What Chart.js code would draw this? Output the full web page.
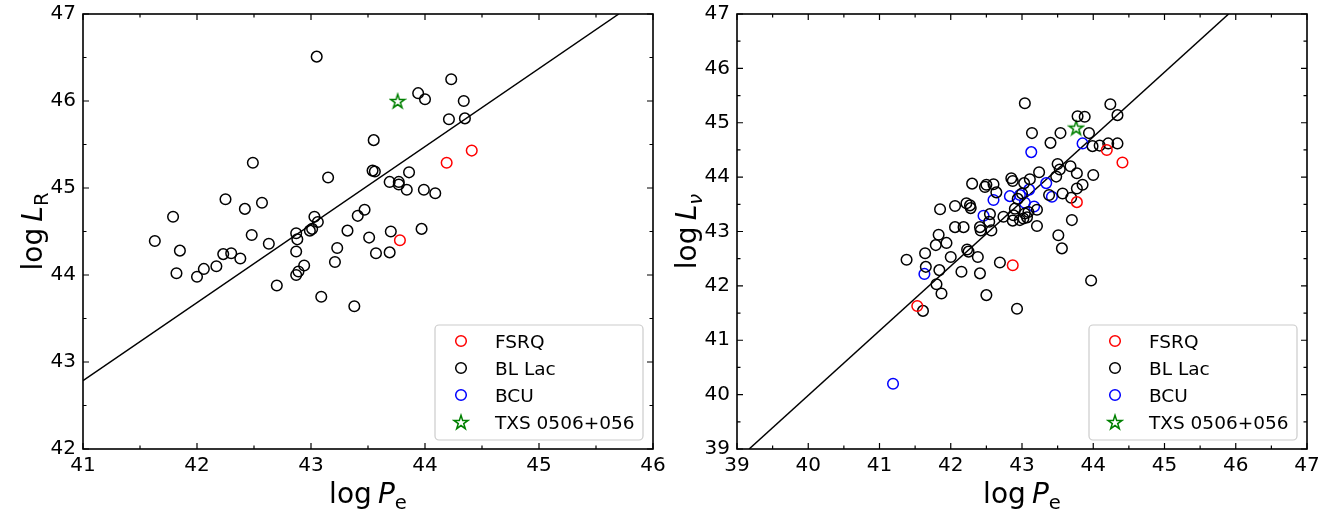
<!DOCTYPE html>
<html>
<head>
<meta charset="utf-8">
<script src="https://cdn.jsdelivr.net/npm/chart.js@4"></script>
<style>
html,body{margin:0;padding:0;background:#fff;}
#wrap{position:relative;width:1338px;height:514px;overflow:hidden;background:#fff;}
#c1{position:absolute;left:0;top:0;}
#c2{position:absolute;left:669px;top:0;}
</style>
</head>
<body>
<div id="wrap">
<canvas id="c1" width="669" height="514"></canvas>
<canvas id="c2" width="669" height="514"></canvas>
</div>
<script>
// ---------- Left panel: log P_e vs log L_R ----------
const leftXTicks = [41, 42, 43, 44, 45, 46];
const leftYTicks = [42, 43, 44, 45, 46, 47];

const leftFsrqPe = [44.41, 44.19, 43.78];
const leftFsrqLR = [45.43, 45.29, 44.40];

const leftBlLacPe = [43.05, 43.55, 42.49, 43.15, 43.54, 43.56, 42.25, 42.42, 42.57, 41.79,
  43.03, 43.06, 43.47, 43.41, 43.32, 42.99, 43.01, 42.87, 43.51, 42.48,
  41.63, 42.63, 41.85, 41.82, 42.00, 42.06, 42.17, 42.23, 42.30, 42.38,
  42.70, 42.88, 42.87, 42.87, 42.89, 42.94, 43.09, 43.21, 43.23, 43.38,
  43.57, 44.23, 43.94, 44.00, 44.34, 44.21, 44.35, 43.86, 43.69, 43.77,
  43.77, 43.84, 43.99, 44.09, 43.70, 43.97, 43.69];
const leftBlLacLR = [46.51, 45.55, 45.29, 45.12, 45.20, 45.19, 44.87, 44.76, 44.83, 44.67,
  44.67, 44.61, 44.75, 44.68, 44.51, 44.51, 44.53, 44.48, 44.43, 44.46,
  44.39, 44.36, 44.28, 44.02, 43.98, 44.07, 44.10, 44.24, 44.25, 44.19,
  43.88, 44.41, 44.27, 44.00, 44.04, 44.11, 43.75, 44.15, 44.31, 43.64,
  44.25, 46.25, 46.09, 46.02, 46.00, 45.79, 45.80, 45.18, 45.07, 45.07,
  45.04, 44.98, 44.98, 44.94, 44.50, 44.53, 44.26];

const leftBcuPe = [];
const leftBcuLR = [];

const leftTxsPe = [43.76];
const leftTxsLR = [46.00];

const leftFitPe = [41.0, 45.70];
const leftFitLR = [42.785, 47.0];

// ---------- Right panel: log P_e vs log L_nu ----------
const rightXTicks = [39, 40, 41, 42, 43, 44, 45, 46, 47];
const rightYTicks = [39, 40, 41, 42, 43, 44, 45, 46, 47];

const rightFsrqPe = [44.19, 44.41, 43.77, 42.87, 41.53];
const rightFsrqLnu = [44.50, 44.27, 43.54, 42.38, 41.63];

const rightBlLacPe = [43.04, 43.14, 43.40, 43.54, 44.24, 44.34, 43.78, 43.88, 43.94, 43.99,
  44.09, 44.21, 44.34, 43.50, 43.53, 43.68, 43.77, 44.00, 43.24, 43.11,
  43.03, 43.48, 43.85, 43.77, 43.57, 43.38, 43.69, 43.21, 43.07, 43.02,
  43.21, 43.70, 43.51, 43.56, 43.97, 42.93, 41.38, 41.64, 41.65, 41.83,
  41.79, 41.94, 41.84, 41.80, 41.87, 41.61, 42.00, 42.06, 42.18, 42.15,
  42.23, 42.25, 42.38, 42.41, 42.42, 42.41, 42.57, 42.50, 42.69, 41.85,
  42.06, 42.22, 42.27, 42.28, 42.30, 42.48, 42.50, 42.60, 42.64, 42.55,
  42.85, 42.87, 42.94, 43.00, 42.74, 42.88, 42.90, 42.87, 42.54, 43.09,
  43.04, 42.97];
const rightBlLacLnu = [45.36, 44.81, 44.63, 44.81, 45.34, 45.14, 45.12, 45.11, 44.81, 44.57,
  44.58, 44.62, 44.62, 44.24, 44.14, 44.20, 44.07, 44.04, 44.09, 43.96,
  43.89, 44.01, 43.86, 43.79, 43.70, 43.67, 43.62, 43.40, 43.26, 43.24,
  43.10, 43.21, 42.93, 42.69, 42.10, 41.58, 42.48, 42.60, 42.35, 42.94,
  42.75, 42.79, 42.29, 42.03, 41.86, 41.54, 42.53, 43.08, 43.08, 42.26,
  42.67, 42.63, 42.53, 43.08, 43.02, 42.23, 43.02, 41.83, 42.43, 43.41,
  43.47, 43.52, 43.48, 43.43, 43.88, 43.82, 43.86, 43.87, 43.72, 43.32,
  43.98, 43.93, 43.60, 43.70, 43.27, 43.30, 43.42, 43.20, 43.18, 43.36,
  43.33, 43.21];

const rightBcuPe = [43.13, 43.85, 43.34, 43.10, 43.42, 43.17, 43.04, 42.97, 42.83, 42.60, 42.46, 41.63, 41.19];
const rightBcuLnu = [44.46, 44.62, 43.89, 43.77, 43.64, 43.46, 43.53, 43.67, 43.65, 43.58, 43.29, 42.22, 40.20];

const rightTxsPe = [43.76];
const rightTxsLnu = [44.91];

const rightFitPe = [39.17, 45.90];
const rightFitLnu = [39.0, 47.0];

// ---------- helpers ----------
const FONT = "'DejaVu Sans', 'Liberation Sans', sans-serif";
const TICK_SIZE = 20;
const TITLE_SIZE = 28;
const LEGEND_SIZE = 18.5;
const RED = '#ff0000', BLACK = '#000000', BLUE = '#0000ff', GREEN = '#008000';

function pts(xs, ys) { return xs.map((x, i) => ({x: x, y: ys[i]})); }

function makeStar() {
  const c = document.createElement('canvas');
  c.width = 18; c.height = 18;
  const g = c.getContext('2d');
  g.strokeStyle = GREEN; g.lineWidth = 1.5; g.lineJoin = 'miter';
  g.beginPath();
  const R = 7.4, r = R * 0.382;
  for (let i = 0; i < 10; i++) {
    const a = -Math.PI / 2 + i * Math.PI / 5;
    const rad = (i % 2 === 0) ? R : r;
    const px = 9 + rad * Math.cos(a), py = 9.7 + rad * Math.sin(a);
    if (i === 0) g.moveTo(px, py); else g.lineTo(px, py);
  }
  g.closePath(); g.stroke();
  return c;
}
const STAR = makeStar();

function scatterSet(label, xs, ys, color, star) {
  return {
    type: 'scatter', label: label, data: pts(xs, ys),
    pointStyle: star ? STAR : 'circle',
    pointRadius: 5.3, pointHoverRadius: 5.3,
    borderColor: color, backgroundColor: 'rgba(0,0,0,0)',
    borderWidth: 1.5, order: 1
  };
}
function fitSet(xs, ys) {
  return {
    type: 'line', label: 'fit', data: pts(xs, ys),
    borderColor: '#000', borderWidth: 1.5, pointRadius: 0,
    fill: false, tension: 0, order: 2
  };
}

function drawTitle(ctx, parts, size) {
  let total = 0;
  const items = parts.map(p => {
    const s = p.sub ? size * 0.7 : size;
    const f = (p.italic ? 'italic ' : '') + s + 'px ' + FONT;
    ctx.font = f;
    const w = ctx.measureText(p.t).width + (p.gap || 0) * size;
    const it = {t: p.t, f: f, w: w, dy: p.sub ? size * 0.2 : 0, pre: (p.gap || 0) * size};
    total += w;
    return it;
  });
  let x = -total / 2;
  ctx.textAlign = 'left';
  ctx.textBaseline = 'alphabetic';
  ctx.fillStyle = '#000';
  items.forEach(it => {
    ctx.font = it.f;
    ctx.fillText(it.t, x + it.pre, it.dy);
    x += it.w;
  });
}

function panelPlugin(spec) {
  return {
    id: 'panel_' + spec.name,
    afterDraw(chart) {
      const ctx = chart.ctx;
      const ca = chart.chartArea;
      const xs = chart.scales.x, ys = chart.scales.y;
      ctx.save();
      // frame
      ctx.strokeStyle = '#000';
      ctx.lineWidth = 1.6;
      ctx.strokeRect(ca.left, ca.top, ca.right - ca.left, ca.bottom - ca.top);
      // ticks (major + minor, inward, all four sides)
      ctx.lineWidth = 1.2;
      ctx.beginPath();
      for (let v = xs.min; v <= xs.max + 1e-9; v += 0.5) {
        const px = xs.getPixelForValue(v);
        const L = Math.abs(v - Math.round(v)) < 1e-6 ? 6 : 3.5;
        ctx.moveTo(px, ca.bottom); ctx.lineTo(px, ca.bottom - L);
        ctx.moveTo(px, ca.top); ctx.lineTo(px, ca.top + L);
      }
      for (let v = ys.min; v <= ys.max + 1e-9; v += 0.5) {
        const py = ys.getPixelForValue(v);
        const L = Math.abs(v - Math.round(v)) < 1e-6 ? 6 : 3.5;
        ctx.moveTo(ca.left, py); ctx.lineTo(ca.left + L, py);
        ctx.moveTo(ca.right, py); ctx.lineTo(ca.right - L, py);
      }
      ctx.stroke();

      // legend
      const lw = 208, lh = 115;
      const lx = ca.right - 10 - lw, ly = ca.bottom - 9 - lh;
      ctx.fillStyle = 'rgba(255,255,255,0.85)';
      ctx.strokeStyle = '#cccccc';
      ctx.lineWidth = 1.2;
      ctx.beginPath();
      if (ctx.roundRect) ctx.roundRect(lx, ly, lw, lh, 4); else ctx.rect(lx, ly, lw, lh);
      ctx.fill(); ctx.stroke();
      spec.legend.forEach((e, i) => {
        const cy = ly + 16 + i * 27;
        const mx = lx + 26;
        if (e.star) {
          ctx.drawImage(STAR, mx - 9, cy - 9);
        } else {
          ctx.beginPath();
          ctx.arc(mx, cy, 5.3, 0, Math.PI * 2);
          ctx.strokeStyle = e.color; ctx.lineWidth = 1.5; ctx.stroke();
        }
        ctx.fillStyle = '#000';
        ctx.font = LEGEND_SIZE + 'px ' + FONT;
        ctx.textAlign = 'left';
        ctx.textBaseline = 'alphabetic';
        ctx.fillText(e.label, lx + 60, cy + 6.8);
      });

      // axis titles
      ctx.save();
      ctx.translate((ca.left + ca.right) / 2, spec.xTitleY);
      drawTitle(ctx, spec.xTitle, TITLE_SIZE);
      ctx.restore();
      ctx.save();
      ctx.translate(spec.yTitleX, (ca.top + ca.bottom) / 2);
      ctx.rotate(-Math.PI / 2);
      drawTitle(ctx, spec.yTitle, TITLE_SIZE);
      ctx.restore();
      ctx.restore();
    }
  };
}

function makeChart(id, spec) {
  const ctx = document.getElementById(id).getContext('2d');
  return new Chart(ctx, {
    type: 'scatter',
    data: { datasets: spec.datasets },
    options: {
      responsive: false, animation: false, devicePixelRatio: 1,
      events: [],
      layout: { padding: spec.padding },
      plugins: { legend: { display: false }, tooltip: { enabled: false }, title: { display: false } },
      scales: {
        x: {
          type: 'linear', position: 'bottom', min: spec.xTicks[0], max: spec.xTicks[spec.xTicks.length - 1],
          afterBuildTicks: s => { s.ticks = spec.xTicks.map(v => ({value: v})); },
          ticks: { color: '#000', font: { family: FONT, size: TICK_SIZE }, padding: 5, maxRotation: 0, autoSkip: false,
                   callback: v => String(v) },
          grid: { display: false, drawTicks: false },
          border: { display: false },
          afterFit: s => { s.height = 40; s.paddingLeft = 0; s.paddingRight = 0; s.paddingTop = 0; s.paddingBottom = 0; }
        },
        y: {
          type: 'linear', position: 'left', min: spec.yTicks[0], max: spec.yTicks[spec.yTicks.length - 1],
          afterBuildTicks: s => { s.ticks = spec.yTicks.map(v => ({value: v})); },
          ticks: { color: '#000', font: { family: FONT, size: TICK_SIZE }, padding: 7, autoSkip: false,
                   labelOffset: 0, callback: v => String(v) },
          grid: { display: false, drawTicks: false },
          border: { display: false },
          afterFit: s => { s.width = 40; s.paddingLeft = 0; s.paddingRight = 0; s.paddingTop = 0; s.paddingBottom = 0; }
        }
      }
    },
    plugins: [panelPlugin(spec)]
  });
}

const legendEntries = [
  { label: 'FSRQ', color: RED },
  { label: 'BL Lac', color: BLACK },
  { label: 'BCU', color: BLUE },
  { label: 'TXS 0506+056', color: GREEN, star: true }
];

makeChart('c1', {
  name: 'left',
  xTicks: leftXTicks, yTicks: leftYTicks,
  padding: { left: 43, right: 16, top: 14, bottom: 25 },
  datasets: [
    fitSet(leftFitPe, leftFitLR),
    scatterSet('FSRQ', leftFsrqPe, leftFsrqLR, RED),
    scatterSet('BL Lac', leftBlLacPe, leftBlLacLR, BLACK),
    scatterSet('BCU', leftBcuPe, leftBcuLR, BLUE),
    scatterSet('TXS 0506+056', leftTxsPe, leftTxsLR, GREEN, true)
  ],
  legend: legendEntries,
  xTitle: [{t: 'log'}, {t: 'P', italic: true, gap: 0.22}, {t: 'e', sub: true}],
  yTitle: [{t: 'log'}, {t: 'L', italic: true, gap: 0.22}, {t: 'R', sub: true}],
  xTitleY: 503, yTitleX: 42
});

makeChart('c2', {
  name: 'right',
  xTicks: rightXTicks, yTicks: rightYTicks,
  padding: { left: 28, right: 31, top: 14, bottom: 25 },
  datasets: [
    fitSet(rightFitPe, rightFitLnu),
    scatterSet('FSRQ', rightFsrqPe, rightFsrqLnu, RED),
    scatterSet('BL Lac', rightBlLacPe, rightBlLacLnu, BLACK),
    scatterSet('BCU', rightBcuPe, rightBcuLnu, BLUE),
    scatterSet('TXS 0506+056', rightTxsPe, rightTxsLnu, GREEN, true)
  ],
  legend: legendEntries,
  xTitle: [{t: 'log'}, {t: 'P', italic: true, gap: 0.22}, {t: 'e', sub: true}],
  yTitle: [{t: 'log'}, {t: 'L', italic: true, gap: 0.22}, {t: '\u03BD', sub: true, italic: true}],
  xTitleY: 503, yTitleX: 27
});
</script>
</body>
</html>
